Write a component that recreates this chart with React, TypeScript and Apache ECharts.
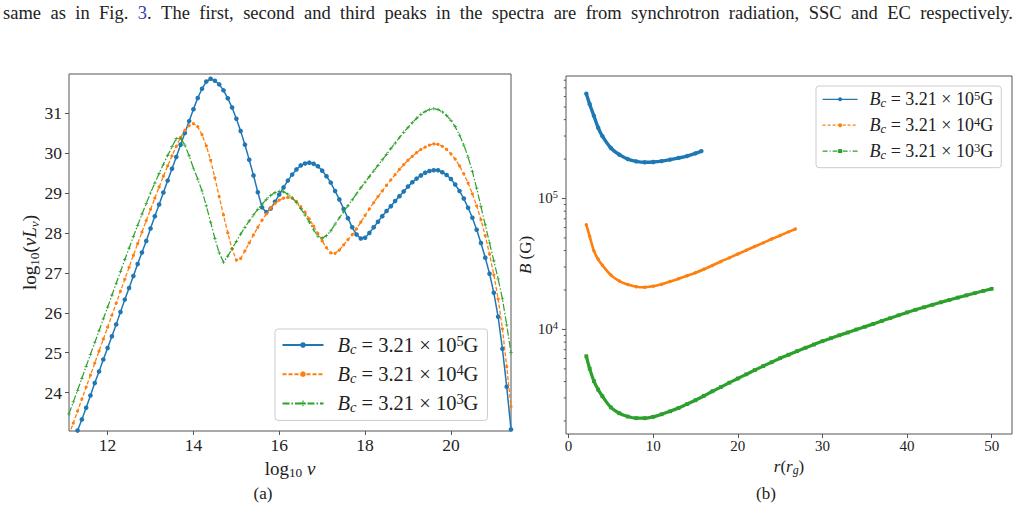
import { useEffect, useRef } from 'react';
import * as echarts from 'echarts';

const SERIF = '"Liberation Serif", "DejaVu Serif", "Times New Roman", serif';
const INK = '#222222';
const SPINE = '#555555';
const LINK = '#3b3bb0';
const COLORS = ['#1f77b4', '#ff7f0e', '#2ca02c'];

// Exponent of B_c = 3.21 × 10^n G for each model
const exponents = ['5', '4', '3'];
const spectrumNames = exponents.map((e) => `spectrum Bc=3.21e${e}G`);
const fieldNames = exponents.map((e) => `field Bc=3.21e${e}G`);

// (a) log10 ν sampling grid: 11.1 … 21.4, 0.1 dex apart
const logNu = Array.from({ length: 104 }, (_, i) => Math.round((11.1 + i * 0.1) * 10) / 10);

// (a) log10(ν L_ν) for B_c = 3.21e5, 3.21e4, 3.21e3 G
const lumHigh = [
  22.46, 22.76, 23.05, 23.33, 23.62, 23.93, 24.24, 24.53, 24.83, 25.12,
  25.41, 25.71, 26.02, 26.33, 26.62, 26.92, 27.22, 27.51, 27.80, 28.11,
  28.42, 28.71, 29.01, 29.31, 29.61, 29.90, 30.21, 30.50, 30.80, 31.10,
  31.38, 31.61, 31.79, 31.86, 31.81, 31.72, 31.57, 31.37, 31.14, 30.86,
  30.55, 30.21, 29.83, 29.44, 29.02, 28.64, 28.52, 28.61, 28.78, 28.96,
  29.14, 29.31, 29.46, 29.59, 29.69, 29.74, 29.76, 29.73, 29.67, 29.56,
  29.42, 29.26, 29.05, 28.84, 28.60, 28.37, 28.14, 27.96, 27.86, 27.88,
  28.00, 28.14, 28.28, 28.42, 28.55, 28.67, 28.80, 28.92, 29.04, 29.16,
  29.27, 29.36, 29.44, 29.51, 29.55, 29.57, 29.57, 29.52, 29.45, 29.35,
  29.21, 29.05, 28.86, 28.63, 28.38, 28.08, 27.75, 27.38, 26.98, 26.50,
  25.90, 25.10, 24.15, 23.08,
];
const lumMid = [
  22.94, 23.24, 23.54, 23.84, 24.14, 24.44, 24.74, 25.04, 25.34, 25.64,
  25.94, 26.24, 26.54, 26.84, 27.14, 27.44, 27.73, 28.02, 28.31, 28.59,
  28.87, 29.15, 29.42, 29.68, 29.93, 30.17, 30.39, 30.57, 30.69, 30.74,
  30.66, 30.46, 30.18, 29.82, 29.38, 28.91, 28.45, 28.00, 27.60, 27.32,
  27.36, 27.55, 27.75, 27.95, 28.14, 28.32, 28.48, 28.62, 28.74, 28.82,
  28.87, 28.89, 28.87, 28.79, 28.66, 28.52, 28.35, 28.17, 27.99, 27.80,
  27.63, 27.50, 27.49, 27.57, 27.70, 27.83, 27.96, 28.10, 28.27, 28.44,
  28.60, 28.76, 28.91, 29.05, 29.19, 29.33, 29.46, 29.59, 29.71, 29.82,
  29.92, 30.01, 30.09, 30.15, 30.20, 30.23, 30.22, 30.17, 30.09, 29.98,
  29.85, 29.68, 29.48, 29.25, 28.98, 28.68, 28.33, 27.93, 27.47, 26.95,
  26.35, 25.60, 24.65, 23.65,
];
const lumLow = [
  23.47, 23.77, 24.06, 24.36, 24.66, 24.96, 25.25, 25.55, 25.85, 26.14,
  26.44, 26.74, 27.03, 27.33, 27.62, 27.91, 28.19, 28.47, 28.74, 29.00,
  29.25, 29.49, 29.72, 29.94, 30.16, 30.36, 30.37, 30.20, 29.93, 29.62,
  29.35, 29.05, 28.68, 28.27, 27.86, 27.50, 27.27, 27.42, 27.60, 27.79,
  27.97, 28.14, 28.30, 28.45, 28.59, 28.72, 28.84, 28.94, 29.01, 29.04,
  29.03, 28.97, 28.88, 28.76, 28.61, 28.45, 28.27, 28.08, 27.92, 27.87,
  27.93, 28.05, 28.22, 28.38, 28.53, 28.68, 28.83, 28.98, 29.13, 29.27,
  29.41, 29.55, 29.69, 29.83, 29.97, 30.11, 30.25, 30.39, 30.52, 30.64,
  30.76, 30.87, 30.97, 31.04, 31.09, 31.11, 31.09, 31.03, 30.94, 30.82,
  30.66, 30.45, 30.20, 29.90, 29.54, 29.12, 28.66, 28.20, 27.75, 27.30,
  26.85, 26.35, 25.70, 25.00,
];

// (b) magnetic field B (G) against radius r (r_g)
const rHigh = [2.1, 2.5, 3, 3.5, 4, 5, 6, 7, 8, 9, 10, 11, 12, 13, 14, 15, 15.7];
const fieldHigh = [
  631000, 525000, 427000, 347000, 299000, 243000, 216000, 200000, 192000,
  189000, 190000, 193000, 198000, 204000, 211000, 221000, 230000,
];
const rMid = [
  2.1, 2.5, 3, 3.5, 4, 5, 6, 7, 8, 9, 10, 11, 12, 13, 14, 15, 16, 17, 18, 19,
  20, 21, 22, 23, 24, 25, 26, 26.8,
];
const fieldMid = [
  63100, 51300, 39800, 34300, 30900, 26000, 23400, 22000, 21200, 21000, 21400,
  22100, 23200, 24400, 25700, 27100, 28800, 30800, 33000, 35200, 37700, 40200,
  43000, 45800, 49000, 52100, 55600, 58500,
];
const rLow = [
  2.1, 2.5, 3, 3.5, 4, 5, 6, 7, 8, 9, 10, 11, 12, 13, 14, 15, 16, 17, 18, 19,
  20, 21, 22, 23, 24, 25, 26, 27, 28, 29, 30, 31, 32, 33, 34, 35, 36, 37, 38,
  39, 40, 41, 42, 43, 44, 45, 46, 47, 48, 49, 50,
];
const fieldLow = [
  6240, 5010, 4030, 3470, 3090, 2540, 2290, 2160, 2100, 2100, 2150, 2250, 2370,
  2510, 2690, 2880, 3110, 3370, 3630, 3920, 4220, 4540, 4890, 5250, 5620, 6030,
  6410, 6820, 7240, 7670, 8130, 8570, 9020, 9480, 9980, 10470, 11020, 11590,
  12190, 12820, 13490, 14130, 14760, 15420, 16110, 16790, 17500, 18200, 18920,
  19680, 20420,
];

// Tick positions
const nuTicks = [12, 14, 16, 18, 20];
const lumTicks = [24, 25, 26, 27, 28, 29, 30, 31];
const radiusTicks = [0, 10, 20, 30, 40, 50];
const fieldMajorTicks = [1e4, 1e5];
const fieldMinorTicks = [
  2e3, 3e3, 4e3, 5e3, 6e3, 7e3, 8e3, 9e3,
  2e4, 3e4, 4e4, 5e4, 6e4, 7e4, 8e4, 9e4,
  2e5, 3e5, 4e5, 5e5, 6e5, 7e5, 8e5,
];

const R_MIN = -0.3;
const R_MAX = 52.4;

const CAPTION =
  'same as in Fig. 3. The first, second and third peaks in the spectra are from synchrotron radiation, SSC and EC respectively.';

function mathRich(size: number, lineHeight: number, gap = 0) {
  const small = Math.round(size * 0.7 * 10) / 10;
  return {
    g: { width: gap },
    n: { fontFamily: SERIF, fontSize: size, lineHeight, color: INK },
    i: { fontFamily: SERIF, fontSize: size, fontStyle: 'italic', lineHeight, color: INK },
    sub: { fontFamily: SERIF, fontSize: small, verticalAlign: 'bottom', color: INK },
    isub: { fontFamily: SERIF, fontSize: small, fontStyle: 'italic', verticalAlign: 'bottom', color: INK },
    sup: { fontFamily: SERIF, fontSize: small, verticalAlign: 'top', color: INK },
  };
}

const bcLabel = (exp: string) => `{g|}{i|B}{isub|c}{n| = 3.21 × 10}{sup|${exp}}{n|G}`;

function legendFormatter(name: string) {
  const idx = Math.max(spectrumNames.indexOf(name), fieldNames.indexOf(name));
  return bcLabel(exponents[idx]);
}

// Caption line spread across the page width, as in a justified paragraph
function buildCaption(fontSize: number, width: number) {
  const words = CAPTION.split(' ');
  const ctx = document.createElement('canvas').getContext('2d')!;
  ctx.font = `${fontSize}px ${SERIF}`;
  const used = words.reduce((s, w) => s + ctx.measureText(w).width, 0);
  const gap = Math.max(3, (width - used) / (words.length - 1));
  const text = words
    .map((w) => (w === '3.' ? '{r|3}{c|.}' : `{c|${w}}`))
    .join('{sp|}');
  return { text, gap };
}

const CAPTION_SIZE = 18.5;

function buildOption() {
  const caption = buildCaption(CAPTION_SIZE, 1010);
  const tickRows = [
    ...fieldMajorTicks.map((v) => [R_MIN, v, 4]),
    ...fieldMinorTicks.map((v) => [R_MIN, v, 2.2]),
  ];

  const spectrumSeries = [lumHigh, lumMid, lumLow].map((vals, k) => ({
    name: spectrumNames[k],
    type: 'line',
    xAxisIndex: 0,
    yAxisIndex: 0,
    data: logNu.map((x, i) => [x, vals[i]]),
    clip: true,
    silent: true,
    symbol: ['circle', 'circle', 'path://M2,0H3V2H5V3H3V5H2V3H0V2H2Z'][k],
    symbolSize: [4.6, 3.2, 3.6][k],
    lineStyle: {
      color: COLORS[k],
      width: [1.5, 1.3, 1.2][k],
      type: ['solid', [4, 2], [7, 2, 1.5, 2]][k],
    },
    itemStyle: { color: COLORS[k] },
    z: 2 + k,
  }));

  const fieldSeries = [
    [rHigh, fieldHigh],
    [rMid, fieldMid],
    [rLow, fieldLow],
  ].map(([rs, bs], k) => ({
    name: fieldNames[k],
    type: 'line',
    xAxisIndex: 1,
    yAxisIndex: 1,
    data: (rs as number[]).map((r, i) => [r, (bs as number[])[i]]),
    smooth: 0.3,
    silent: true,
    symbol: ['circle', 'circle', 'rect'][k],
    symbolSize: [4.4, 3.4, 3.8][k],
    lineStyle: { color: COLORS[k], width: [3.4, 2.6, 3.2][k] },
    itemStyle: { color: COLORS[k] },
    z: 2 + k,
  }));

  return {
    animation: false,
    grid: [
      { left: 69, top: 74, width: 442, height: 357, show: true, borderColor: SPINE, borderWidth: 1 },
      { left: 566, top: 76, width: 446, height: 358, show: true, borderColor: SPINE, borderWidth: 1 },
    ],
    xAxis: [
      {
        type: 'value',
        gridIndex: 0,
        min: 11.1,
        max: 21.4,
        axisLine: { show: false },
        splitLine: { show: false },
        axisTick: { show: true, length: 4, customValues: nuTicks, lineStyle: { color: SPINE } },
        axisLabel: { customValues: nuTicks, margin: 5, fontFamily: SERIF, fontSize: 17.5, color: INK },
        name: '{n|log}{sub|10}{n| }{i|ν}',
        nameLocation: 'middle',
        nameGap: 21,
        nameTextStyle: { rich: mathRich(19, 22) },
      },
      {
        type: 'value',
        gridIndex: 1,
        min: R_MIN,
        max: R_MAX,
        axisLine: { show: false },
        splitLine: { show: false },
        axisTick: { show: true, length: 4, customValues: radiusTicks, lineStyle: { color: SPINE } },
        axisLabel: { customValues: radiusTicks, margin: 4, fontFamily: SERIF, fontSize: 15, color: INK },
        name: '{i|r}{n|(}{i|r}{isub|g}{n|)}',
        nameLocation: 'middle',
        nameGap: 21,
        nameTextStyle: { rich: mathRich(17, 20) },
      },
    ],
    yAxis: [
      {
        type: 'value',
        gridIndex: 0,
        min: 23.04,
        max: 31.98,
        axisLine: { show: false },
        splitLine: { show: false },
        axisTick: { show: true, length: 4, customValues: lumTicks, lineStyle: { color: SPINE } },
        axisLabel: { customValues: lumTicks, margin: 7, fontFamily: SERIF, fontSize: 17.5, color: INK },
        name: '{n|log}{sub|10}{n|(}{i|νL}{isub|ν}{n|)}',
        nameLocation: 'middle',
        nameRotate: 90,
        nameGap: 24,
        nameTextStyle: { rich: mathRich(19, 22) },
      },
      {
        type: 'log',
        logBase: 10,
        gridIndex: 1,
        min: 1590,
        max: 862000,
        axisLine: { show: false },
        splitLine: { show: false },
        axisTick: { show: false },
        axisLabel: {
          showMinLabel: false,
          showMaxLabel: false,
          margin: 8,
          formatter: (v: number) => `{n|10}{sup|${Math.round(Math.log10(v))}}`,
          rich: mathRich(15, 18),
        },
        name: '{i|B}{n| (G)}',
        nameLocation: 'middle',
        nameRotate: 90,
        nameGap: 24,
        nameTextStyle: { rich: mathRich(17, 20) },
      },
    ],
    legend: [
      {
        orient: 'vertical',
        align: 'left',
        left: 275,
        top: 329,
        selectedMode: false,
        data: spectrumNames,
        itemWidth: 41,
        itemHeight: 7,
        itemGap: 7.2,
        padding: [5, 9, 6, 6.5],
        backgroundColor: 'rgba(255,255,255,0.85)',
        borderColor: '#cccccc',
        borderWidth: 1,
        borderRadius: 3,
        formatter: legendFormatter,
        textStyle: { rich: mathRich(20.5, 22, 9) },
      },
      {
        orient: 'vertical',
        align: 'left',
        left: 816,
        top: 86,
        selectedMode: false,
        data: [
          { name: fieldNames[0], lineStyle: { width: 1.2, type: 'solid' } },
          { name: fieldNames[1], lineStyle: { width: 1.2, type: [3, 2] } },
          { name: fieldNames[2], lineStyle: { width: 1.2, type: [5, 2, 1, 2] } },
        ],
        itemWidth: 35,
        itemHeight: 5,
        itemGap: 5.9,
        padding: [3.3, 8, 6.6, 6],
        backgroundColor: 'rgba(255,255,255,0.85)',
        borderColor: '#cccccc',
        borderWidth: 1,
        borderRadius: 3,
        formatter: legendFormatter,
        textStyle: { rich: mathRich(18, 20, 7) },
      },
    ],
    series: [
      ...spectrumSeries,
      ...fieldSeries,
      {
        type: 'custom',
        xAxisIndex: 1,
        yAxisIndex: 1,
        silent: true,
        clip: false,
        data: tickRows,
        encode: { x: 0, y: 1 },
        renderItem: (_params: any, api: any) => {
          const p = api.coord([api.value(0), api.value(1)]);
          const len = api.value(2);
          return {
            type: 'line',
            shape: { x1: p[0] - len, y1: p[1], x2: p[0], y2: p[1] },
            style: { stroke: SPINE, lineWidth: 1 },
          };
        },
      },
    ],
    graphic: [
      {
        type: 'text',
        x: 3,
        y: 13,
        silent: true,
        style: {
          text: caption.text,
          verticalAlign: 'middle',
          align: 'left',
          rich: {
            c: { fontFamily: SERIF, fontSize: CAPTION_SIZE, fill: INK },
            r: { fontFamily: SERIF, fontSize: CAPTION_SIZE, fill: LINK },
            sp: { width: caption.gap },
          },
        },
      },
      {
        type: 'text',
        x: 263,
        y: 493,
        silent: true,
        style: { text: '(a)', fontFamily: SERIF, fontSize: 17, fill: INK, align: 'center', verticalAlign: 'middle' },
      },
      {
        type: 'text',
        x: 766,
        y: 493,
        silent: true,
        style: { text: '(b)', fontFamily: SERIF, fontSize: 17, fill: INK, align: 'center', verticalAlign: 'middle' },
      },
    ],
  };
}

export default function App() {
  const ref = useRef<HTMLDivElement>(null);
  useEffect(() => {
    if (!ref.current) return;
    const chart = echarts.init(ref.current, null, { renderer: 'svg' });
    chart.setOption(buildOption() as any);
    return () => chart.dispose();
  }, []);
  return (
    <div
      ref={ref}
      style={{ position: 'absolute', left: 0, top: 0, width: 1019, height: 508, background: '#ffffff' }}
    />
  );
}
